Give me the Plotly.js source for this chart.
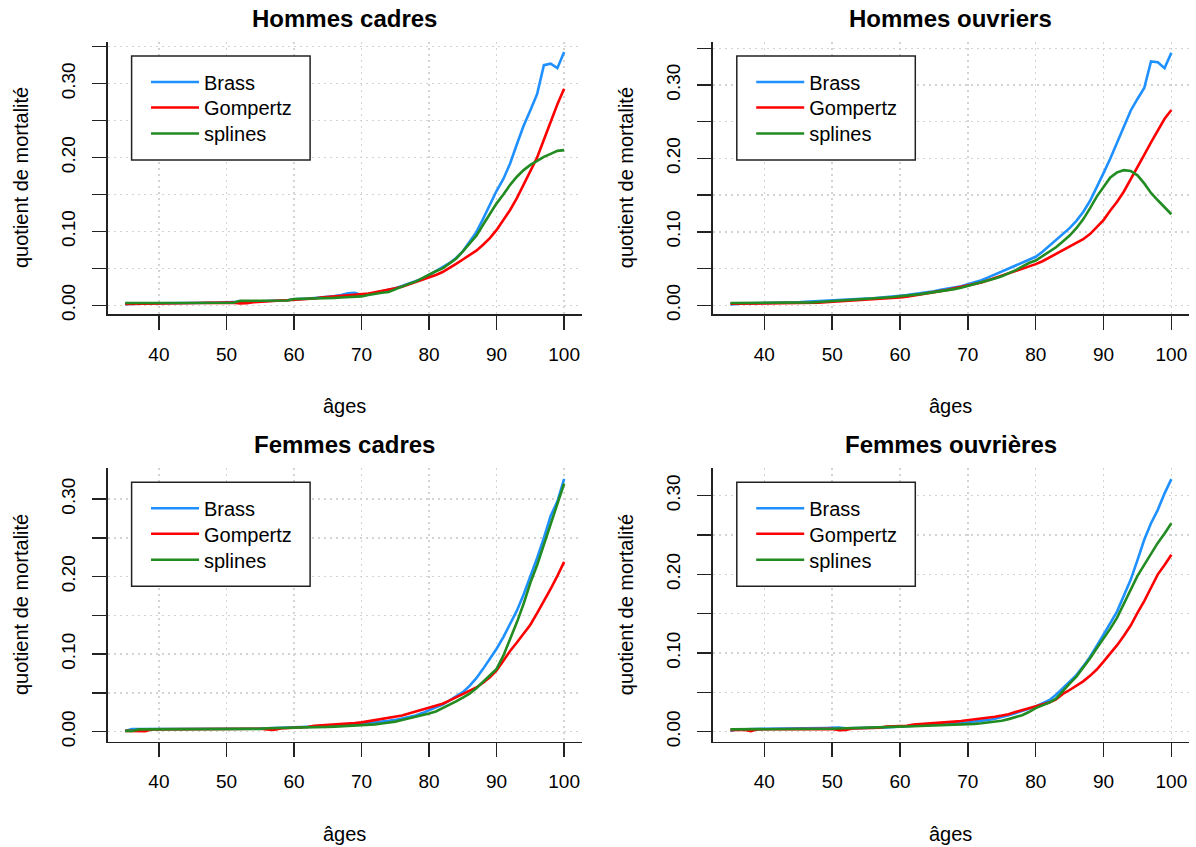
<!DOCTYPE html>
<html>
<head>
<meta charset="utf-8">
<script src="https://cdn.plot.ly/plotly-3.0.1.min.js"></script>
<style>html,body{margin:0;padding:0;background:#fff;}#chart{width:1196px;height:847px;}</style>
</head>
<body>
<div id="chart"></div>
<script>
// ---------- data ----------
const ages = [35,36,37,38,39,40,41,42,43,44,45,46,47,48,49,50,51,52,53,54,55,56,57,58,59,60,61,62,63,64,65,66,67,68,69,70,71,72,73,74,75,76,77,78,79,80,81,82,83,84,85,86,87,88,89,90,91,92,93,94,95,96,97,98,99,100];

const panelTitles = ["Hommes cadres", "Hommes ouvriers", "Femmes cadres", "Femmes ouvrières"];
const seriesNames = ["Brass", "Gompertz", "splines"];
const xTickVals = [40,50,60,70,80,90,100];
const yTickVals = [0,0.05,0.10,0.15,0.20,0.25,0.30,0.35];
const yTickText = ["0.00","","0.10","","0.20","","0.30",""];
const xLabel = "âges";
const yLabel = "quotient de mortalité";

// Hommes cadres
const brassHC = [0.0015,0.0020,0.0025,0.0025,0.0027,0.0028,0.0030,0.0030,0.0030,0.0031,0.0032,0.0033,0.0034,0.0035,0.0036,0.0037,0.0038,0.0045,0.0050,0.0052,0.0055,0.0058,0.0060,0.0063,0.0068,0.0080,0.0082,0.0090,0.0098,0.0105,0.0118,0.0125,0.0138,0.0162,0.0168,0.0140,0.0150,0.0170,0.0185,0.0200,0.0230,0.0260,0.0290,0.0320,0.0360,0.0410,0.0460,0.0510,0.0570,0.0640,0.0730,0.0860,0.0990,0.1170,0.1370,0.1550,0.1710,0.1920,0.2180,0.2430,0.2640,0.2860,0.3250,0.3270,0.3210,0.3430];
const gompHC  = [0.0018,0.0020,0.0022,0.0024,0.0025,0.0026,0.0027,0.0028,0.0029,0.0030,0.0030,0.0031,0.0032,0.0033,0.0034,0.0035,0.0036,0.0026,0.0028,0.0042,0.0050,0.0055,0.0060,0.0064,0.0068,0.0072,0.0078,0.0085,0.0092,0.0105,0.0112,0.0118,0.0125,0.0135,0.0145,0.0150,0.0158,0.0175,0.0190,0.0205,0.0230,0.0250,0.0280,0.0310,0.0340,0.0380,0.0410,0.0450,0.0500,0.0560,0.0620,0.0680,0.0740,0.0820,0.0910,0.1020,0.1150,0.1290,0.1450,0.1630,0.1810,0.2000,0.2240,0.2490,0.2720,0.2930];
const splHC   = [0.0030,0.0030,0.0030,0.0030,0.0031,0.0031,0.0031,0.0032,0.0032,0.0032,0.0033,0.0033,0.0033,0.0034,0.0034,0.0035,0.0035,0.0060,0.0060,0.0061,0.0062,0.0062,0.0063,0.0064,0.0065,0.0085,0.0086,0.0088,0.0090,0.0092,0.0095,0.0100,0.0105,0.0110,0.0115,0.0120,0.0140,0.0160,0.0170,0.0180,0.0220,0.0250,0.0290,0.0320,0.0370,0.0420,0.0460,0.0500,0.0560,0.0630,0.0730,0.0830,0.0940,0.1090,0.1240,0.1380,0.1500,0.1630,0.1740,0.1830,0.1900,0.1960,0.2010,0.2050,0.2090,0.2100];

// Hommes ouvriers
const brassHO = [0.0010,0.0022,0.0025,0.0026,0.0027,0.0028,0.0029,0.0030,0.0031,0.0033,0.0042,0.0046,0.0050,0.0055,0.0060,0.0066,0.0071,0.0076,0.0081,0.0086,0.0091,0.0096,0.0102,0.0110,0.0120,0.0130,0.0140,0.0150,0.0165,0.0180,0.0190,0.0210,0.0225,0.0240,0.0260,0.0285,0.0310,0.0340,0.0380,0.0420,0.0450,0.0490,0.0530,0.0570,0.0620,0.0660,0.0730,0.0810,0.0880,0.0960,0.1050,0.1150,0.1270,0.1420,0.1600,0.1800,0.2000,0.2220,0.2430,0.2650,0.2810,0.2960,0.3320,0.3310,0.3230,0.3440];
const gompHO  = [0.0020,0.0021,0.0022,0.0023,0.0024,0.0025,0.0026,0.0027,0.0028,0.0029,0.0030,0.0031,0.0028,0.0035,0.0042,0.0048,0.0045,0.0052,0.0062,0.0068,0.0072,0.0078,0.0084,0.0090,0.0098,0.0108,0.0118,0.0132,0.0148,0.0164,0.0178,0.0195,0.0210,0.0230,0.0250,0.0270,0.0290,0.0310,0.0340,0.0370,0.0400,0.0430,0.0470,0.0500,0.0530,0.0560,0.0600,0.0650,0.0690,0.0740,0.0790,0.0850,0.0900,0.0970,0.1060,0.1160,0.1290,0.1410,0.1550,0.1710,0.1870,0.2050,0.2220,0.2390,0.2540,0.2660];
const splHO   = [0.0030,0.0030,0.0030,0.0031,0.0031,0.0032,0.0032,0.0033,0.0033,0.0034,0.0035,0.0036,0.0040,0.0045,0.0050,0.0056,0.0062,0.0068,0.0074,0.0080,0.0086,0.0092,0.0098,0.0105,0.0112,0.0120,0.0130,0.0140,0.0152,0.0165,0.0178,0.0190,0.0205,0.0220,0.0240,0.0265,0.0285,0.0305,0.0335,0.0365,0.0395,0.0430,0.0475,0.0525,0.0575,0.0610,0.0670,0.0730,0.0790,0.0870,0.0950,0.1050,0.1170,0.1320,0.1480,0.1610,0.1740,0.1810,0.1840,0.1830,0.1770,0.1660,0.1530,0.1430,0.1330,0.1240];

// Femmes cadres
const brassFC = [0.0010,0.0034,0.0034,0.0034,0.0034,0.0034,0.0034,0.0035,0.0035,0.0035,0.0035,0.0035,0.0036,0.0036,0.0036,0.0036,0.0037,0.0037,0.0038,0.0038,0.0039,0.0045,0.0048,0.0050,0.0052,0.0055,0.0058,0.0060,0.0063,0.0066,0.0070,0.0074,0.0078,0.0084,0.0092,0.0100,0.0110,0.0120,0.0130,0.0140,0.0152,0.0168,0.0188,0.0210,0.0240,0.0275,0.0310,0.0350,0.0400,0.0450,0.0510,0.0590,0.0690,0.0810,0.0940,0.1070,0.1220,0.1380,0.1560,0.1770,0.2000,0.2240,0.2500,0.2780,0.2970,0.3260];
const gompFC  = [0.0010,0.0010,0.0010,0.0005,0.0030,0.0031,0.0031,0.0032,0.0032,0.0033,0.0033,0.0034,0.0034,0.0035,0.0035,0.0036,0.0036,0.0037,0.0037,0.0038,0.0038,0.0030,0.0022,0.0042,0.0046,0.0050,0.0055,0.0060,0.0075,0.0080,0.0085,0.0090,0.0095,0.0100,0.0110,0.0120,0.0135,0.0150,0.0165,0.0180,0.0195,0.0210,0.0235,0.0260,0.0290,0.0310,0.0330,0.0360,0.0400,0.0440,0.0480,0.0520,0.0570,0.0630,0.0700,0.0790,0.0920,0.1040,0.1150,0.1260,0.1380,0.1530,0.1680,0.1840,0.2010,0.2190];
const splFC   = [0.0010,0.0010,0.0030,0.0030,0.0031,0.0031,0.0031,0.0032,0.0032,0.0032,0.0033,0.0033,0.0033,0.0034,0.0034,0.0034,0.0035,0.0035,0.0035,0.0036,0.0036,0.0045,0.0046,0.0047,0.0048,0.0050,0.0052,0.0054,0.0056,0.0058,0.0062,0.0066,0.0070,0.0074,0.0078,0.0085,0.0090,0.0095,0.0105,0.0115,0.0130,0.0150,0.0170,0.0190,0.0210,0.0235,0.0260,0.0300,0.0340,0.0390,0.0440,0.0490,0.0560,0.0640,0.0720,0.0810,0.0980,0.1190,0.1410,0.1650,0.1920,0.2150,0.2420,0.2680,0.2950,0.3200];

// Femmes ouvrières
const brassFO = [0.0010,0.0032,0.0032,0.0033,0.0033,0.0034,0.0034,0.0035,0.0035,0.0036,0.0036,0.0037,0.0037,0.0038,0.0048,0.0050,0.0052,0.0042,0.0043,0.0044,0.0045,0.0047,0.0050,0.0055,0.0060,0.0065,0.0068,0.0072,0.0076,0.0080,0.0085,0.0090,0.0096,0.0103,0.0112,0.0120,0.0128,0.0138,0.0150,0.0165,0.0185,0.0210,0.0235,0.0260,0.0290,0.0320,0.0360,0.0400,0.0470,0.0550,0.0630,0.0720,0.0830,0.0950,0.1090,0.1230,0.1380,0.1530,0.1730,0.1930,0.2180,0.2440,0.2650,0.2820,0.3030,0.3210];
const gompFO  = [0.0020,0.0022,0.0024,0.0006,0.0030,0.0031,0.0031,0.0032,0.0032,0.0033,0.0033,0.0034,0.0034,0.0035,0.0035,0.0036,0.0020,0.0022,0.0040,0.0042,0.0044,0.0047,0.0050,0.0065,0.0068,0.0071,0.0075,0.0090,0.0095,0.0100,0.0105,0.0112,0.0120,0.0128,0.0136,0.0145,0.0155,0.0165,0.0178,0.0190,0.0205,0.0222,0.0250,0.0275,0.0295,0.0320,0.0345,0.0370,0.0410,0.0480,0.0530,0.0580,0.0640,0.0710,0.0790,0.0890,0.0990,0.1100,0.1220,0.1350,0.1510,0.1660,0.1830,0.2000,0.2120,0.2250];
const splFO   = [0.0030,0.0030,0.0030,0.0031,0.0031,0.0032,0.0032,0.0033,0.0033,0.0034,0.0034,0.0035,0.0035,0.0036,0.0036,0.0037,0.0040,0.0042,0.0043,0.0044,0.0045,0.0047,0.0049,0.0052,0.0058,0.0064,0.0067,0.0070,0.0072,0.0074,0.0076,0.0079,0.0082,0.0086,0.0090,0.0095,0.0100,0.0108,0.0116,0.0127,0.0140,0.0160,0.0185,0.0210,0.0250,0.0300,0.0335,0.0370,0.0420,0.0520,0.0610,0.0700,0.0810,0.0930,0.1060,0.1180,0.1310,0.1450,0.1630,0.1820,0.1980,0.2120,0.2260,0.2400,0.2520,0.2650];

// ---------- chart ----------
const FONT = "Liberation Sans, Arial, Helvetica, sans-serif";
const colors = ["#1E90FF", "#FF0000", "#228B22"];
const panelSeries = [[brassHC, gompHC, splHC],[brassHO, gompHO, splHO],[brassFC, gompFC, splFC],[brassFO, gompFO, splFO]];

// plot regions in pixels (left, right, top, bottom) within 1196x847
const W = 1196, H = 847;
const regions = [
  [107.6, 581.7, 41.7, 314.3],
  [712.8, 1189.0, 41.7, 314.3],
  [107.6, 581.7, 468.3, 741.7],
  [712.8, 1189.0, 468.3, 741.7]
];
const yRanges = [[-0.0122, 0.3568],[-0.0123, 0.3590],[-0.0129, 0.3396],[-0.0127, 0.3348]];
// legend box: left, top (px); size
const legendBox = [[131.6, 56],[736.8, 56],[131.6, 482.3],[736.8, 482.3]];
const LBW = 178.5, LBH = 104;
const itemOffsets = [26, 51.5, 77.5];

const traces = [];
const layout = {
  width: W, height: H,
  margin: {l:0, r:0, t:0, b:0},
  paper_bgcolor: "#fff", plot_bgcolor: "#fff",
  font: {family: FONT, size: 19, color: "#000"},
  showlegend: true,
  annotations: [],
  shapes: []
};

let legCount = 0;
panelSeries.forEach((ser, p) => {
  const sfx = p === 0 ? "" : String(p + 1);
  const [bx, by] = legendBox[p];
  ser.forEach((vals, s) => {
    legCount += 1;
    const legId = "legend" + (legCount === 1 ? "" : String(legCount));
    traces.push({
      type: "scatter", mode: "lines",
      x: ages, y: vals, name: seriesNames[s],
      xaxis: "x" + sfx, yaxis: "y" + sfx,
      legend: legId,
      line: {color: colors[s], width: 2.6},
      hoverinfo: "skip"
    });
    layout[legId] = {
      x: (bx + 14.4) / W, y: 1 - (by + itemOffsets[s]) / H,
      xanchor: "left", yanchor: "middle",
      bgcolor: "rgba(0,0,0,0)", borderwidth: 0,
      font: {family: FONT, size: 20, color: "#000"},
      itemwidth: 48
    };
  });
  layout.shapes.push({
    type: "rect", xref: "paper", yref: "paper", layer: "above",
    x0: bx / W, x1: (bx + LBW) / W, y0: 1 - (by + LBH) / H, y1: 1 - by / H,
    fillcolor: "#fff", line: {color: "#222", width: 1.5}
  });
  const [L, R, T, B] = regions[p];
  const common = {
    ticks: "outside", ticklen: 14, tickwidth: 1.5, tickcolor: "#222",
    showline: true, linecolor: "#222", linewidth: 1.5,
    showgrid: true, gridcolor: "#d3d3d3", griddash: "2px,4px", gridwidth: 1.5,
    zeroline: false, fixedrange: true,
    tickfont: {family: FONT, size: 19, color: "#000"}
  };
  layout["xaxis" + sfx] = Object.assign({}, common, {
    domain: [L / W, R / W], anchor: "y" + sfx,
    range: [32.4, 102.6], tickmode: "array", tickvals: xTickVals,
    ticklabelstandoff: 8
  });
  layout["yaxis" + sfx] = Object.assign({}, common, {
    domain: [1 - B / H, 1 - T / H], anchor: "x" + sfx,
    range: yRanges[p], tickmode: "array", tickvals: yTickVals, ticktext: yTickText,
    tickangle: -90, ticklabelstandoff: 10
  });
  const cx = (L + R) / 2 / W;
  layout.annotations.push({
    text: "<b>" + panelTitles[p] + "</b>", xref: "paper", yref: "paper",
    x: cx, y: 1 - (T - 23.5) / H, xanchor: "center", yanchor: "middle",
    showarrow: false, font: {family: FONT, size: 24, color: "#000"}
  });
  layout.annotations.push({
    text: xLabel, xref: "paper", yref: "paper",
    x: cx, y: 1 - (B + 92) / H, xanchor: "center", yanchor: "middle",
    showarrow: false, font: {family: FONT, size: 20, color: "#000"}
  });
  layout.annotations.push({
    text: yLabel, xref: "paper", yref: "paper", textangle: -90,
    x: (L - 86.6) / W, y: 1 - (T + B) / 2 / H, xanchor: "center", yanchor: "middle",
    showarrow: false, font: {family: FONT, size: 20, color: "#000"}
  });
});

Plotly.newPlot("chart", traces, layout, {staticPlot: true, displayModeBar: false});
</script>
</body>
</html>
